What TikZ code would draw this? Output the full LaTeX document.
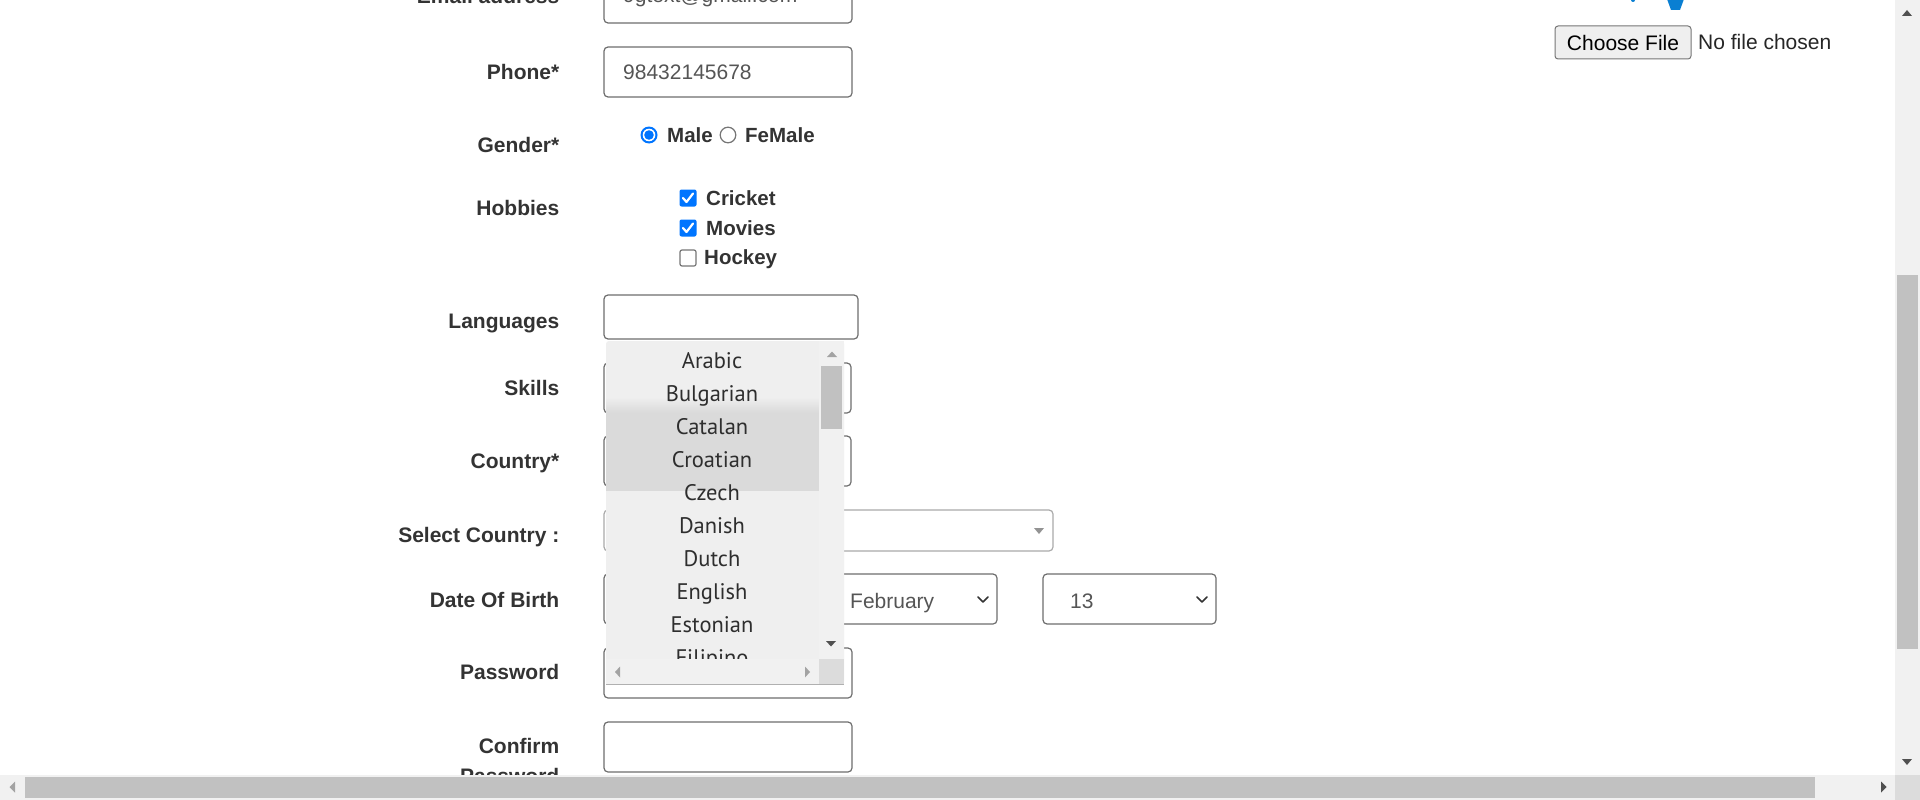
\documentclass[tikz,border=0pt]{standalone}
\usepackage{fontspec}
\setmainfont{Liberation Sans}
\newfontfamily\listfont{PT Sans}
\definecolor{cLbl}{HTML}{333333}
\definecolor{cInTxt}{HTML}{555555}
\definecolor{cBorder}{HTML}{6E6E6E}
\definecolor{cLight}{HTML}{AAAAAA}
\definecolor{cBlue}{HTML}{0075FF}
\definecolor{cGrayBox}{HTML}{767676}
\definecolor{cListBg}{HTML}{EFEFEF}
\definecolor{cHi}{HTML}{DADADA}
\definecolor{cTrack}{HTML}{F1F1F1}
\definecolor{cThumb}{HTML}{C1C1C1}
\definecolor{cCorner}{HTML}{DCDCDC}
\definecolor{cArrowOff}{HTML}{A3A3A3}
\definecolor{cArrow}{HTML}{505050}
\definecolor{cBtn}{HTML}{EFEFEF}
\definecolor{cLogo}{HTML}{0A7FD2}
\begin{document}
\begin{tikzpicture}[x=1pt,y=-1pt,
  lbl/.style={font=\bfseries\fontsize{21}{24}\selectfont, text=cLbl, anchor=base east, inner sep=0pt},
  opt/.style={font=\bfseries\fontsize{20.5}{24}\selectfont, text=cLbl, anchor=base west, inner sep=0pt},
  intxt/.style={font=\fontsize{21}{24}\selectfont, text=cInTxt, anchor=base west, inner sep=0pt},
  inbox/.style={draw=cBorder, line width=1.2pt, rounded corners=4pt, fill=white},
  item/.style={font=\listfont\fontsize{22.5}{26}\selectfont, text=cLbl!90!black, anchor=base, inner sep=0pt},
  chev/.style={draw=cLbl, line width=1.5pt, line cap=round, line join=round}
]
\useasboundingbox (0,0) rectangle (1920,800);
\fill[white] (0,0) rectangle (1920,800);
\begin{scope}
\clip (0,0) rectangle (1920,800);

% ---- labels ----
\node[lbl] (lEmail) at (559.5,4) {Email address};
\node[lbl] (lPhone) at (559.5,79) {Phone*};
\node[lbl] (lGender) at (559.5,152) {Gender*};
\node[lbl] (lHobbies) at (559.5,215) {Hobbies};
\node[lbl] (lLang) at (559.5,328) {Languages};
\node[lbl] (lSkills) at (559.5,395) {Skills};
\node[lbl] (lCountry) at (559.5,468) {Country*};
\node[lbl] (lSel) at (559.5,542) {Select Country :};
\node[lbl] (lDob) at (559.5,607) {Date Of Birth};
\node[lbl] (lPwd) at (559.5,679) {Password};
\node[lbl] (lConf) at (559.5,753) {Confirm};
\node[lbl] (lConf2) at (559.5,783) {Password};

% ---- inputs ----
\draw[inbox] (604,-20) rectangle (852,23);
\node[intxt] (tEmail) at (623,3) {9gtext@gmail.com};
\draw[inbox] (604,47) rectangle (852,97);
\node[intxt] (tPhone) at (623,79) {98432145678};

% gender radios
\fill[cBlue] (649,135) circle (8.5);
\fill[white] (649,135) circle (6.3);
\fill[cBlue] (649,135) circle (4.8);
\node[opt] (tMale) at (667,142) {Male};
\draw[cGrayBox, line width=1.2pt, fill=white] (728,135) circle (7.8);
\node[opt] (tFemale) at (745,142) {FeMale};

% hobbies
\fill[cBlue, rounded corners=2pt] (679.5,189.5) rectangle (696.5,206.5);
\draw[white, line width=2.2pt, line cap=round, line join=round] (683,198) -- (686.5,202) -- (693,193.5);
\node[opt] (tCricket) at (706,205) {Cricket};
\fill[cBlue, rounded corners=2pt] (679.5,219.5) rectangle (696.5,236.5);
\draw[white, line width=2.2pt, line cap=round, line join=round] (683,228) -- (686.5,232) -- (693,223.5);
\node[opt] (tMovies) at (706,235) {Movies};
\draw[cGrayBox, line width=1.2pt, rounded corners=2pt] (680,250) rectangle (696,266);
\node[opt] (tHockey) at (704,264) {Hockey};

% languages and boxes behind list
\draw[inbox] (604,295) rectangle (858,339);
\draw[inbox] (604,363) rectangle (851,413);
\draw[inbox] (604,436) rectangle (851,486);
\draw[draw=cLight, line width=1.2pt, rounded corners=4pt, fill=white] (604,510) rectangle (1053,551);
\fill[gray!85] (1034,528) -- (1044,528) -- (1039,534) -- cycle;
\draw[inbox] (604,574) rectangle (800,624);
\draw[inbox] (836,574) rectangle (997,624);
\node[intxt] (tMonth) at (850,608) {February};
\draw[chev] (978,597) -- (983,602) -- (988,597);
\draw[inbox] (1043,574) rectangle (1216,624);
\node[intxt] (tDay) at (1070,608) {13};
\draw[chev] (1197,597) -- (1202,602) -- (1207,597);
\draw[inbox] (604,648) rectangle (852,698);
\draw[inbox] (604,722) rectangle (852,772);

% ---- file input ----
\node[draw=cGrayBox, fill=cBtn, rounded corners=3pt, line width=1pt, minimum width=136pt, minimum height=33pt, inner sep=0pt, font=\fontsize{21}{24}\selectfont, text=black] (btnFile) at (1623,42.5) {Choose File};
\node[font=\fontsize{21}{24}\selectfont, text=black!85, anchor=base west, inner sep=0pt] (tNoFile) at (1698,50) {No file chosen};
\fill[cLogo] (1667,-1) -- (1684,-1) -- (1680,10) -- (1671,10) -- cycle;
\fill[cLogo] (1633,0) circle (2);

% ---- languages dropdown list ----
\fill[cListBg, rounded corners=3pt] (606,341) rectangle (844,684);
\fill[cHi] (606,412) rectangle (819,491);
\shade[top color=cListBg, bottom color=cHi] (606,397) rectangle (819,412.5);
\begin{scope}
\clip (606,341) rectangle (819,659);
\node[item] (i1) at (712,368) {Arabic};
\node[item] (i2) at (712,401) {Bulgarian};
\node[item] (i3) at (712,434) {Catalan};
\node[item] (i4) at (712,467) {Croatian};
\node[item] (i5) at (712,500) {Czech};
\node[item] (i6) at (712,533) {Danish};
\node[item] (i7) at (712,566) {Dutch};
\node[item] (i8) at (712,599) {English};
\node[item] (i9) at (712,632) {Estonian};
\node[item] (i10) at (712,665) {Filipino};
\end{scope}
\fill[cTrack] (819,341) rectangle (844,659);
\fill[cThumb] (821,366) rectangle (842,429);
\fill[cArrowOff] (827,357) -- (837,357) -- (832,351.5) -- cycle;
\fill[cArrow] (826,641) -- (836,641) -- (831,646.5) -- cycle;
\fill[cTrack] (606,659) rectangle (819,684);
\fill[cArrowOff] (620,666.5) -- (620,677.5) -- (615,672) -- cycle;
\fill[cArrowOff] (805,666.5) -- (805,677.5) -- (810,672) -- cycle;
\fill[cCorner] (819,659) rectangle (844,684);
\draw[cCorner!80!black, line width=0.6pt] (606,684) -- (844,684);

% ---- page scrollbars ----
\fill[cTrack] (1895,0) rectangle (1920,775);
\fill[cThumb] (1897,275) rectangle (1918,649);
\fill[cArrow] (1902,16) -- (1912,16) -- (1907,10) -- cycle;
\fill[cArrow] (1902,759) -- (1912,759) -- (1907,765) -- cycle;
\fill[cTrack] (0,775) rectangle (1895,800);
\fill[cThumb] (25,777) rectangle (1815,798);
\fill[cArrowOff] (15,781.5) -- (15,792.5) -- (9.5,787) -- cycle;
\fill[cArrow] (1881,781.5) -- (1881,792.5) -- (1886.5,787) -- cycle;
\fill[cCorner] (1895,775) rectangle (1920,800);
\end{scope}
\end{tikzpicture}
\end{document}
